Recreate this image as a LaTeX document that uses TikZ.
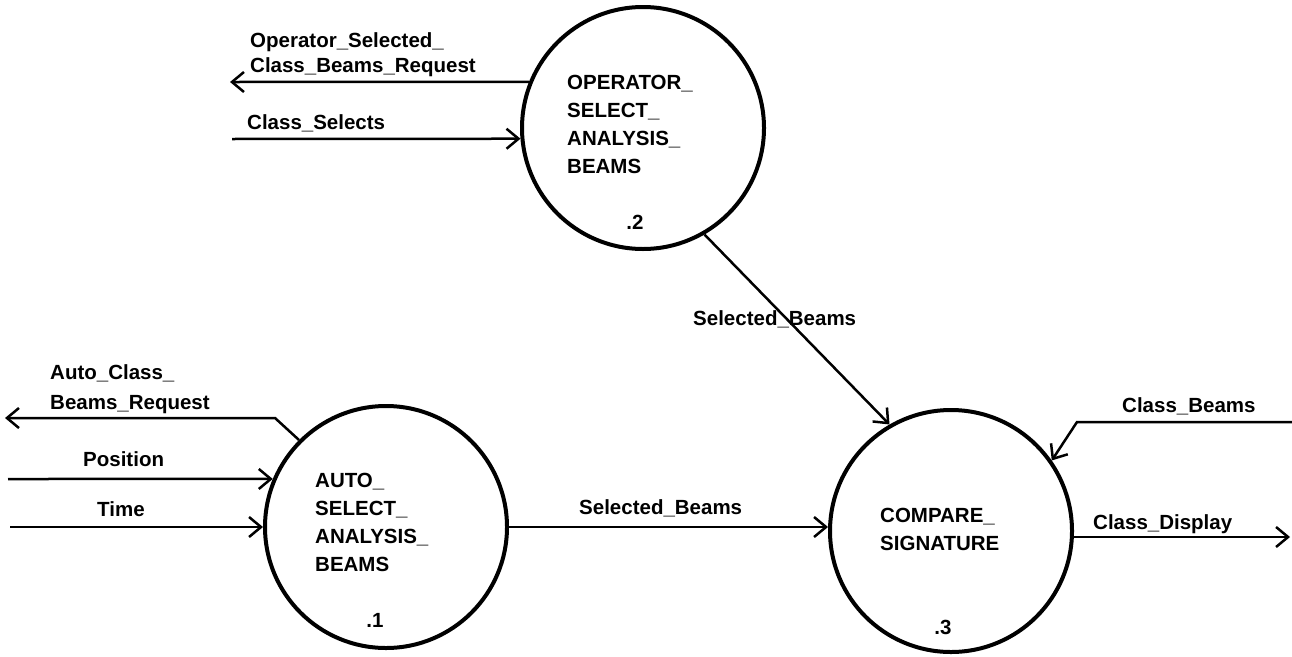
\documentclass[tikz,border=0pt]{standalone}
\usepackage{fontspec}
\setmainfont{Liberation Sans}
\usetikzlibrary{arrows.meta}
\begin{document}
\begin{tikzpicture}[x=1pt,y=-1pt,
  process/.style={circle,draw,line width=4pt,minimum size=242pt,inner sep=0pt},
  flow/.style={line width=2.5pt,-{Straight Barb[length=12pt,width=20pt]}},
  txt/.style={inner sep=0pt,align=left,font=\fontsize{20.5}{28}\selectfont\bfseries},
  lbl/.style={txt,anchor=base west},
  blk/.style={txt,anchor=north west},
  num/.style={txt,anchor=center}]
\useasboundingbox (0,0) rectangle (1292,656);

% processes
\node[process] (p1) at (386,527) {};
\node[process] (p2) at (643,128) {};
\node[process] (p3) at (951,531) {};

% process names and numbers
\node[blk] (t2) at (567,74.6) {OPERATOR\_\\SELECT\_\\ANALYSIS\_\\BEAMS};
\node[num] (n2) at (635,222) {.2};
\node[blk] (t1) at (315,472.6) {AUTO\_\\SELECT\_\\ANALYSIS\_\\BEAMS};
\node[num] (n1) at (375,620) {.1};
\node[blk] (t3) at (880,507.6) {COMPARE\_\\SIGNATURE};
\node[num] (n3) at (943,627) {.3};

% free ends of the external flows
\coordinate (osEnd) at (230,82);
\coordinate (csStart) at (232,139);
\coordinate (acEnd) at (5,418);
\coordinate (acBend) at (275,418);
\coordinate (posStart) at (8,479);
\coordinate (timeStart) at (10,527);
\coordinate (cbStart) at (1292,422);
\coordinate (cbBend) at (1077,422);
\coordinate (cdEnd) at (1290,537);

% flows
\draw[flow] (p2.158) -- (osEnd);
\draw[flow] (csStart) -- (p2.185);
\draw[flow] (p2.-60) -- (p3.120);
\draw[flow] (p1.135) -- (acBend) -- (acEnd);
\draw[flow] (posStart) -- (p1.157);
\draw[flow] (timeStart) -- (p1.west);
\draw[flow] (p1.east) -- (p3.west |- p1.east);
\draw[flow] (cbStart) -- (cbBend) -- (p3.35);
\draw[flow] (p3.east |- cdEnd) -- (cdEnd);

% flow labels
\node[blk] (l1) at (250,32.6) {Operator\_Selected\_\\[-3pt]Class\_Beams\_Request};
\node[lbl] (l2) at (247,129.3) {Class\_Selects};
\node[blk] (l3) at (50,364.6) {Auto\_Class\_\\[2pt]Beams\_Request};
\node[lbl] (l4) at (83,466.3) {Position};
\node[lbl] (l5) at (97,516.3) {Time};
\node[lbl] (l6) at (579,514.3) {Selected\_Beams};
\node[lbl] (l7) at (693,325.3) {Selected\_Beams};
\node[lbl] (l8) at (1122,412.3) {Class\_Beams};
\node[lbl] (l9) at (1093,529.3) {Class\_Display};
\end{tikzpicture}
\end{document}
